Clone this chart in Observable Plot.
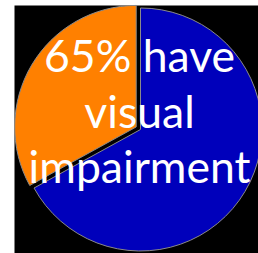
<!DOCTYPE html>
<html><head><meta charset="utf-8">
<script src="https://cdn.jsdelivr.net/npm/d3@7"></script>
<script src="https://cdn.jsdelivr.net/npm/@observablehq/plot@0.6"></script>
<style>body{margin:0;background:#fff;} svg{display:block}</style>
</head><body><div id="chart"></div>
<script>
const categories = ["Visual impairment", "No visual impairment"];
const values = [67, 33];
const colors = ["#0000BB", "#FF8000"];
const labelLines = ["65% have", "visual", "impairment"];

const slices = categories.map((c, i) => ({category: c, value: values[i], color: colors[i]}));
const pieLayout = d3.pie().sort(null).value(d => d.value)(slices);

function pieMark(index, scales) {
  const cx = scales.x(0), cy = scales.y(0);
  const r = scales.x(1) - scales.x(0);
  const arc = d3.arc().innerRadius(0).outerRadius(r);
  const g = d3.create("svg:g");
  pieLayout.forEach((p, i) => {
    const explode = i === 1 ? 5 : 0;
    const mid = (p.startAngle + p.endAngle) / 2;
    const ox = Math.sin(mid) * explode, oy = -Math.cos(mid) * explode;
    g.append("path")
      .attr("d", arc(p))
      .attr("transform", `translate(${cx + ox},${cy + oy})`)
      .attr("fill", p.data.color)
      .attr("stroke", "#8a8a8a")
      .attr("stroke-width", 1);
  });
  return g.node();
}

const chart = Plot.plot({
  width: 258,
  height: 253,
  marginLeft: 14,
  marginTop: 5,
  marginRight: 0,
  marginBottom: 0,
  style: {background: "white"},
  x: {domain: [-1.0412, 0.967], axis: null},
  y: {domain: [-1.0165, 1.0247], axis: null},
  marks: [
    Plot.frame({fill: "black", stroke: null}),
    pieMark,
    Plot.text([labelLines.join("\n")], {
      x: () => 0, y: () => 0, text: d => d,
      fill: "white", fontSize: 44.5, fontFamily: "Lato",
      lineHeight: 1.25, dx: -1.5, dy: -20
    })
  ]
});
document.getElementById("chart").append(chart);
</script>
</body></html>
